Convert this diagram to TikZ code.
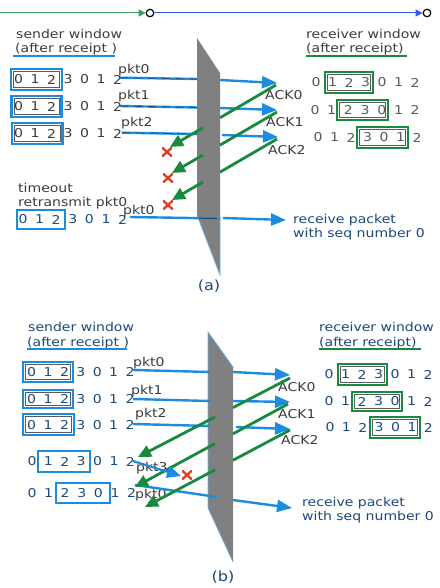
\documentclass[tikz,border=0pt]{standalone}
\usepackage{fontspec}
\setmainfont{DejaVu Sans}[FakeStretch=1.15]
\usetikzlibrary{arrows.meta,calc}
\definecolor{pblue}{RGB}{28,140,222}
\definecolor{pgreen}{RGB}{24,138,62}
\definecolor{xred}{RGB}{222,64,40}
\definecolor{planegray}{RGB}{128,128,128}
\definecolor{planeedge}{RGB}{110,175,225}
\definecolor{txgray}{RGB}{60,60,60}
\definecolor{dgray}{RGB}{90,90,90}
\definecolor{navy}{RGB}{28,74,122}
\definecolor{topgreen}{RGB}{56,158,92}
\definecolor{topblue}{RGB}{52,92,228}
\newcommand\mybox[5]{%
  \draw[draw=#5,line width=2.4pt] (#1,#2) rectangle (#3,#4);
  \draw[draw=dgray,line width=0.6pt] (#1+2.4,#2+2.4) rectangle (#3-2.4,#4-2.4);}
\newcommand\digrow[5]{%
  \foreach \d [count=\i from 0] in {0,1,2,3,0,1,2} {\node[dig,text=#5] (#1\i) at ({#2+#3*\i},#4) {\d};}}
\begin{document}
\begin{tikzpicture}[x=1pt,y=-1pt,
  txt/.style={inner sep=0pt,anchor=base west,font=\fontsize{12.2}{14}\selectfont},
  dig/.style={inner sep=0pt,anchor=center,font=\fontsize{12.2}{14}\selectfont},
  pktline/.style={draw=pblue,line width=2.4pt},
  pktarr/.style={pktline,-{Triangle[length=15pt,width=12pt]}},
  ackline/.style={draw=pgreen,line width=2.8pt},
  ackarr/.style={ackline,-{Triangle[length=13pt,width=12pt]}},
  dashov/.style={draw=navy,line width=0.8pt,dash pattern=on 8pt off 6pt},
  xmark/.style={minimum width=10pt,minimum height=9pt,inner sep=0pt,
    path picture={\draw[xred,line width=2.4pt]
      (path picture bounding box.north west) -- (path picture bounding box.south east)
      (path picture bounding box.north east) -- (path picture bounding box.south west);}},
  endpt/.style={circle,draw=black,fill=white,line width=1.2pt,minimum size=7.5pt,inner sep=0pt}
]
\useasboundingbox (0,0) rectangle (439,588);
\fill[white] (0,0) rectangle (439,588);

% ---------- top timeline ----------
\coordinate (tl0) at (0,13);
\node[endpt] (c1) at (150,13) {};
\node[endpt] (c2) at (427,13) {};
\draw[topgreen,line width=1pt,-{Triangle[length=7pt,width=7pt]}] (tl0) -- (c1.west);
\draw[topblue,line width=1pt,-{Triangle[length=7pt,width=7pt]}] (c1.east) -- (c2.west);

% =============== PANEL (a) ===============
\fill[planegray] (197,38) -- (220,73) -- (220,275) -- (197,215) -- cycle;
\draw[planeedge,line width=0.7pt] (197,215) -- (220,275) -- (220,215);

\node[txt,text=txgray] (sndA) at (16,38.3) {sender window};
\node[txt,text=txgray] (sndA2) at (15,52.7) {(after receipt )};
\draw[pblue,line width=2pt] (13,56) -- (115,56);

\mybox{11}{69}{62}{90}{pblue}
\digrow{sa1d}{18.5}{16.5}{79.5}{txgray}
\mybox{11.5}{96}{61.5}{117}{pblue}
\digrow{sa2d}{18.5}{16.5}{106.5}{txgray}
\mybox{12}{123}{62.5}{144}{pblue}
\digrow{sa3d}{18.5}{16.5}{133.5}{txgray}

\node[txt,text=txgray] (toA) at (18,192.7) {timeout};
\node[txt,text=txgray] (rtA) at (18,206) {retransmit pkt0};
\draw[pblue,line width=2pt] (17,210) rectangle (65,229);
\digrow{sa4d}{23}{16.6}{219.5}{navy}

\node[txt,text=txgray] (rcvA) at (306,38.3) {receiver window};
\node[txt,text=txgray] (rcvA2) at (306,52.7) {(after receipt)};
\draw[pgreen,line width=2pt] (306,56) -- (407,56);

\mybox{325}{72}{373}{93}{pgreen}
\digrow{ra1d}{316}{16.5}{82.5}{dgray}
\mybox{337}{100}{388}{120}{pgreen}
\digrow{ra2d}{315}{16.7}{110}{dgray}
\mybox{357}{127}{408}{148}{pgreen}
\digrow{ra3d}{318}{16.5}{137.5}{dgray}

% packets (a)
\node[txt,text=txgray] (pa0) at (118,73.6) {pkt0};
\node[txt,text=txgray] (pa1) at (118,100) {pkt1};
\node[txt,text=txgray] (pa2) at (121,126.5) {pkt2};
\node[txt,text=txgray] (pa3) at (123,214) {pkt0};

\coordinate (pa0s) at (120,77.7);  \coordinate (pa0m) at (197,79);
\coordinate (pa0r) at (220,80);    \coordinate (pa0e) at (277,83);
\coordinate (pa1s) at (120,106);   \coordinate (pa1m) at (197,107.5);
\coordinate (pa1r) at (220,108);   \coordinate (pa1e) at (277,110);
\coordinate (pa2s) at (122,132.7); \coordinate (pa2m) at (197,134);
\coordinate (pa2r) at (222,135);   \coordinate (pa2e) at (278,137);
\coordinate (pa3s) at (130,217);   \coordinate (pa3m) at (220,218.5);
\coordinate (pa3r) at (223,218);   \coordinate (pa3e) at (286,220);

\foreach \k in {0,1,2} {
  \draw[pktline] (pa\k s) -- (pa\k m);
  \draw[dashov] (pa\k s) -- (pa\k m);
  \draw[pktarr] (pa\k r) -- (pa\k e);
}
\draw[pktline] (pa3s) -- (pa3m);
\draw[navy,line width=1pt] (199,218.2) -- (217,218.5);
\draw[pktarr] (pa3r) -- (pa3e);

\node[txt,text=txgray] (ackA0) at (265,100) {ACK0};
\node[txt,text=txgray] (ackA1) at (266,127) {ACK1};
\node[txt,text=txgray] (ackA2) at (268,155) {ACK2};

% acks (a)
\coordinate (ka0s) at (276,85);  \coordinate (ka0e) at (170,147);
\coordinate (ka1s) at (277,112); \coordinate (ka1e) at (172,173);
\coordinate (ka2s) at (277,139); \coordinate (ka2e) at (172,200);
\draw[ackline] (ka0s) -- ($(ka0s)!0.528!(ka0e)$);
\draw[ackarr] ($(ka0s)!0.69!(ka0e)$) -- (ka0e);
\draw[ackline] (ka1s) -- ($(ka1s)!0.543!(ka1e)$);
\draw[ackarr] ($(ka1s)!0.705!(ka1e)$) -- (ka1e);
\draw[ackline] (ka2s) -- ($(ka2s)!0.543!(ka2e)$);
\draw[ackarr] ($(ka2s)!0.705!(ka2e)$) -- (ka2e);

\node[xmark] (xa0) at (167,152) {};
\node[xmark] (xa1) at (168,178) {};
\node[xmark] (xa2) at (168,205) {};

\node[txt,text=navy] (recA) at (293,223) {receive packet};
\node[txt,text=navy] (recA2) at (293,237) {with seq number 0};
\node[inner sep=0pt,anchor=base,text=navy,font=\fontsize{14}{16}\selectfont] (labA) at (209,290) {(a)};

% =============== PANEL (b) ===============
\fill[planegray] (208,332) -- (233,367) -- (233,562) -- (208,508) -- cycle;
\draw[planeedge,line width=0.7pt] (233,367) -- (208,332) -- (208,508) -- (233,562);

\node[txt,text=navy] (sndB) at (28,331.7) {sender window};
\node[txt,text=navy] (sndB2) at (27,346) {(after receipt )};
\draw[pblue,line width=2pt] (27,349) -- (127,349);

\mybox{23}{362}{73}{382}{pblue}
\digrow{sb1d}{31.7}{16.4}{372}{navy}
\mybox{23}{390}{73}{408}{pblue}
\digrow{sb2d}{31.7}{16.4}{399}{navy}
\mybox{23}{414}{74}{435}{pblue}
\digrow{sb3d}{31.7}{16.4}{425}{navy}
\draw[pblue,line width=2pt] (38,451) rectangle (90,472);
\digrow{sb4d}{32}{16.4}{461.5}{navy}
\draw[pblue,line width=2pt] (56,483) rectangle (110,503);
\digrow{sb5d}{32}{16.6}{493}{navy}

\node[txt,text=navy] (rcvB) at (319,331.7) {receiver window};
\node[txt,text=navy] (rcvB2) at (319,346) {(after receipt)};
\draw[pgreen,line width=2pt] (319,349) -- (421,349);

\mybox{338}{364}{387}{385}{pgreen}
\digrow{rb1d}{329}{16.5}{374.5}{navy}
\mybox{352}{392}{402}{411}{pgreen}
\digrow{rb2d}{329}{16.5}{401.5}{navy}
\mybox{370}{417}{420}{438}{pgreen}
\digrow{rb3d}{330}{16.4}{427.5}{navy}

% packets (b)
\node[txt,text=txgray] (pb0) at (133,366.5) {pkt0};
\node[txt,text=txgray] (pb1) at (131,394) {pkt1};
\node[txt,text=txgray] (pb2) at (135,417.5) {pkt2};
\node[txt,text=txgray] (pb3) at (136,471) {pkt3};
\node[txt,text=txgray] (pb4) at (135,498) {pkt0};

\coordinate (pb0s) at (133,370); \coordinate (pb0m) at (210,372);
\coordinate (pb0r) at (233,372); \coordinate (pb0e) at (290,375);
\coordinate (pb1s) at (133,399); \coordinate (pb1m) at (210,401);
\coordinate (pb1r) at (233,401); \coordinate (pb1e) at (290,402);
\coordinate (pb2s) at (133,424); \coordinate (pb2m) at (210,426);
\coordinate (pb2r) at (236,427); \coordinate (pb2e) at (290,429);
\coordinate (pb4s) at (135,485); \coordinate (pb4m) at (217,497);
\coordinate (pb4r) at (233,500); \coordinate (pb4e) at (292,508);
\foreach \k in {0,1,2,4} {
  \draw[pktline] (pb\k s) -- (pb\k m);
  \draw[pktarr] (pb\k r) -- (pb\k e);
}

\node[txt,text=txgray] (ackB0) at (278,391.7) {ACK0};
\node[txt,text=txgray] (ackB1) at (278,418) {ACK1};
\node[txt,text=txgray] (ackB2) at (281,444) {ACK2};

% acks (b)
\coordinate (kb0s) at (290,378); \coordinate (kb0e) at (138,457);
\coordinate (kb1s) at (288,404); \coordinate (kb1e) at (135,487);
\coordinate (kb2s) at (290,430); \coordinate (kb2e) at (145,507);
\draw[ackline] (kb0s) -- ($(kb0s)!0.375!(kb0e)$);
\draw[ackarr] ($(kb0s)!0.493!(kb0e)$) -- (kb0e);
\draw[ackline] (kb1s) -- ($(kb1s)!0.359!(kb1e)$);
\draw[ackarr] ($(kb1s)!0.477!(kb1e)$) -- (kb1e);
\draw[ackline] (kb2s) -- ($(kb2s)!0.393!(kb2e)$);
\draw[ackarr] ($(kb2s)!0.517!(kb2e)$) -- (kb2e);

\coordinate (pb3s) at (133,461);
\node[xmark] (xb0) at (187,475) {};
\draw[pktline,line width=2.2pt,-{Triangle[length=14pt,width=12pt]}] (pb3s) -- (181,476);

\node[txt,text=navy] (recB) at (302,506) {receive packet};
\node[txt,text=navy] (recB2) at (302,520.7) {with seq number 0};
\node[inner sep=0pt,anchor=base,text=navy,font=\fontsize{14}{16}\selectfont] (labB) at (223,581) {(b)};
\end{tikzpicture}
\end{document}
